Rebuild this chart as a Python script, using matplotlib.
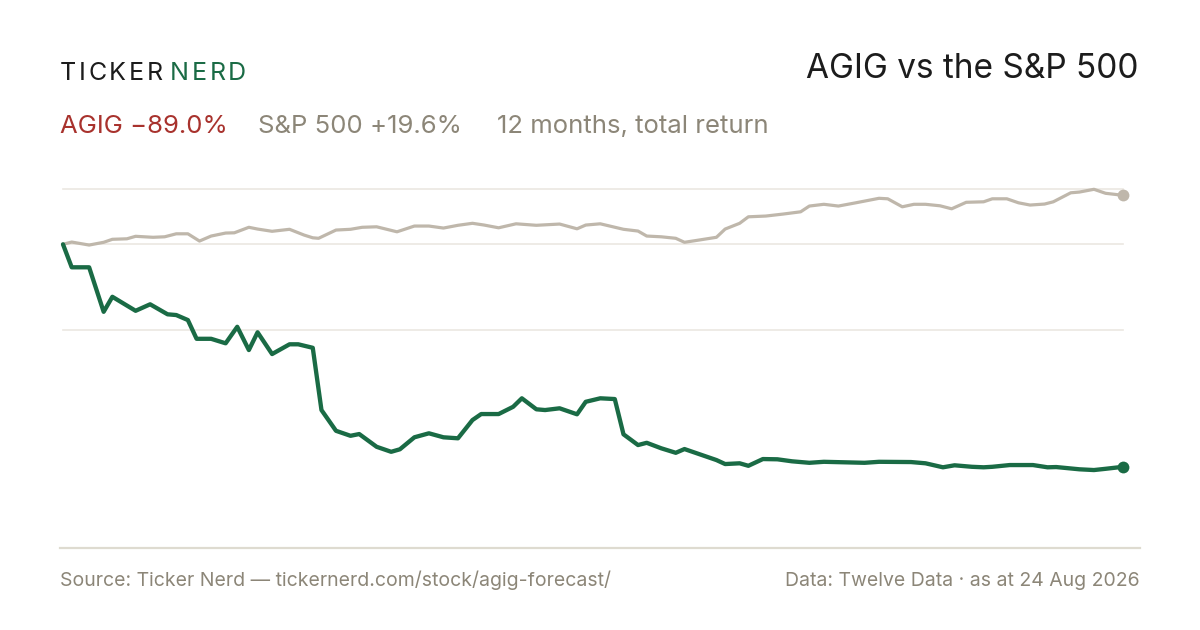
import matplotlib
matplotlib.use("Agg")
import matplotlib.pyplot as plt
from matplotlib.lines import Line2D

# ---------------- data (12-month total return, %) ----------------
agig_days = [0, 3, 9, 14, 17, 25, 30, 36, 39, 43, 46, 51, 56, 60, 64, 67, 72, 78, 81, 86,
             89, 94, 99, 102, 108, 113, 116, 121, 126, 131, 136, 141, 144, 150, 155, 158,
             163, 166, 171, 177, 180, 185, 190, 193, 198, 201, 206, 211, 214, 225, 228,
             233, 236, 241, 246, 251, 257, 262, 276, 281, 292, 297, 303, 307, 313, 317,
             320, 326, 334, 339, 342, 350, 355, 359, 365]
agig_ret = [0.0, -9.2, -9.2, -27.0, -21.0, -26.6, -24.0, -28.0, -28.3, -30.3, -37.8, -37.8,
            -39.6, -33.0, -42.3, -35.2, -43.9, -40.0, -40.0, -41.4, -66.3, -74.6, -76.6,
            -75.9, -81.0, -83.0, -82.0, -77.2, -75.6, -77.2, -77.6, -70.3, -67.9, -67.9,
            -65.0, -61.6, -66.0, -66.3, -65.6, -68.0, -63.0, -61.6, -61.9, -76.0, -80.3,
            -79.4, -81.6, -83.4, -81.9, -86.3, -87.9, -87.6, -88.6, -85.9, -86.0, -86.8,
            -87.4, -87.0, -87.4, -87.0, -87.1, -87.6, -89.2, -88.4, -89.0, -89.2, -89.0,
            -88.3, -88.3, -89.2, -89.1, -90.0, -90.3, -89.8, -89.0]

spx_days = [0, 3, 9, 14, 17, 22, 25, 31, 35, 39, 43, 47, 51, 56, 59, 64, 67, 72, 78, 83,
            86, 88, 94, 99, 103, 108, 115, 121, 126, 131, 136, 141, 145, 150, 156, 163,
            171, 177, 180, 185, 193, 198, 201, 206, 211, 214, 219, 225, 228, 233, 236,
            242, 248, 254, 257, 262, 267, 273, 281, 284, 289, 293, 297, 302, 306, 311,
            317, 320, 325, 329, 333, 338, 341, 347, 350, 355, 359, 365]
spx_ret = [0.0, 0.9, -0.3, 0.8, 2.0, 2.2, 3.2, 2.8, 3.0, 4.2, 4.2, 1.3, 3.3, 4.5, 4.6, 6.8,
           6.1, 5.2, 6.0, 3.7, 2.6, 2.4, 5.7, 6.0, 6.8, 7.0, 5.0, 7.3, 7.3, 6.5, 7.6, 8.4,
           7.7, 6.6, 8.2, 7.6, 8.1, 6.2, 7.7, 8.2, 6.0, 5.3, 3.3, 3.0, 2.4, 0.8, 1.7, 2.8,
           6.1, 8.4, 11.0, 11.3, 12.1, 13.0, 15.3, 16.0, 15.3, 16.6, 18.4, 18.2, 15.0,
           16.0, 16.0, 15.4, 14.2, 16.8, 17.0, 18.2, 18.2, 16.6, 15.7, 16.1, 17.0, 20.6,
           20.9, 22.0, 20.4, 19.6]

grid_levels = [22.0, 0.0, -34.3]

title = "AGIG vs the S&P 500"
agig_label = "AGIG \u221289.0%"
spx_label = "S&P 500 +19.6%"
period_label = "12 months, total return"
source_text = "Source: Ticker Nerd \u2014 tickernerd.com/stock/agig-forecast/"
data_text = "Data: Twelve Data \u00b7 as at 24 Aug 2026"

# ---------------- style ----------------
GREEN = "#1a6b45"
SPX = "#bfb7ab"
RED = "#a8322d"
GREY = "#8c8678"
DARK = "#1c1c1c"
GRID = "#ebe8e1"
RULE = "#dedbd0"
FONT = ["Inter", "DejaVu Sans"]

W, H = 1200, 630
fig = plt.figure(figsize=(W / 100, H / 100), dpi=100)
fig.patch.set_facecolor("white")
plt.rcParams["font.family"] = FONT

def fx(px):
    return px / W

def fy(py):
    return 1 - py / H

ax = fig.add_axes([fx(63), fy(548.3), fx(1123) - fx(63), fy(189.3) - fy(548.3)])
ax.set_xlim(0, 365)
ax.set_ylim(-121.6, 22.0)
ax.axis("off")

for g in grid_levels:
    ax.axhline(g, color=GRID, lw=1.2, zorder=1, clip_on=False)

ax.plot(spx_days, spx_ret, color=SPX, lw=2.3, solid_joinstyle="round",
        solid_capstyle="round", zorder=3, clip_on=False)
ax.plot(agig_days, agig_ret, color=GREEN, lw=3.1, solid_joinstyle="round",
        solid_capstyle="round", zorder=4, clip_on=False)
ax.plot([spx_days[-1]], [spx_ret[-1]], "o", color=SPX, ms=8.5, mec="none", zorder=5, clip_on=False)
ax.plot([agig_days[-1]], [agig_ret[-1]], "o", color=GREEN, ms=8.5, mec="none", zorder=5, clip_on=False)

# bottom rule
fig.add_artist(Line2D([fx(60), fx(1140)], [fy(548.3), fy(548.3)], color=RULE, lw=1.6))

renderer = fig.canvas.get_renderer()

def spaced(x_px, y_px, s, spacing, **kw):
    x = x_px
    for ch in s:
        t = fig.text(fx(x), fy(y_px), ch, va="baseline", ha="left", **kw)
        bb = t.get_window_extent(renderer=renderer)
        x += bb.width + spacing
    return x

# logo
spaced(60, 79.5, "TICKER", 2.6, fontsize=18, color=DARK, family=FONT)
spaced(170, 79.5, "NERD", 2.6, fontsize=18, color=GREEN, family=FONT)

# title
fig.text(fx(1139), fy(78.5), title, ha="right", va="baseline", fontsize=24,
         color=DARK, family=FONT)

# subtitle
fig.text(fx(60), fy(133), agig_label, ha="left", va="baseline", fontsize=18.5, color=RED, family=FONT)
fig.text(fx(258), fy(133), spx_label, ha="left", va="baseline", fontsize=18.5, color=GREY, family=FONT)
fig.text(fx(497), fy(133), period_label, ha="left", va="baseline", fontsize=18.5, color=GREY, family=FONT)

# footer
fig.text(fx(60), fy(586), source_text, ha="left", va="baseline", fontsize=14, color=GREY, family=FONT)
fig.text(fx(1140), fy(586), data_text, ha="right", va="baseline", fontsize=14, color=GREY, family=FONT)

fig.savefig("out.png", dpi=100, facecolor="white")
